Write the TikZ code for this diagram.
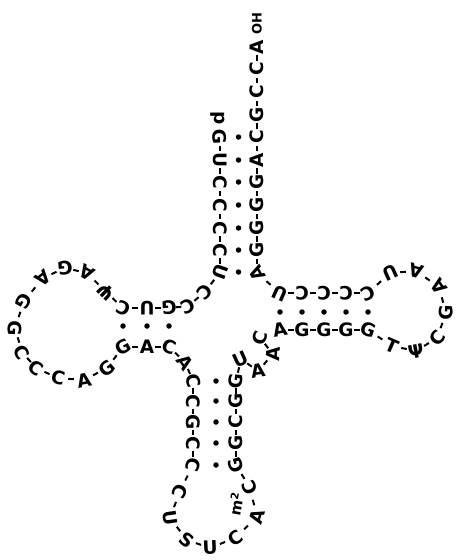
\documentclass[tikz,border=0pt]{standalone}
\usepackage{fontspec}
\newfontfamily\nucfont{DejaVu Sans}
\usetikzlibrary{calc}
\tikzset{
  nucl/.style={font={\nucfont\bfseries\fontsize{18.5pt}{18.5pt}\selectfont}, inner sep=0pt},
  small/.style={font={\nucfont\bfseries\fontsize{13pt}{13pt}\selectfont}, inner sep=0pt},
  hy/.style={line width=2pt, to path={($(\tikztostart)!0.5!(\tikztotarget)!2.8pt!(\tikztostart)$) -- ($(\tikztostart)!0.5!(\tikztotarget)!2.8pt!(\tikztotarget)$)}},
  pairdot/.style={circle, fill=black, inner sep=0pt, minimum size=5.5pt}
}
\newcommand\nt[2]{%
  \edef\ntprev{c\the\numexpr#1-1\relax}%
  \edef\ntnext{c\the\numexpr#1+1\relax}%
  \pgfmathanglebetweenpoints{\pgfpointanchor{\ntprev}{center}}{\pgfpointanchor{\ntnext}{center}}%
  \let\ntang\pgfmathresult
  \node[nucl, rotate=\ntang] (n#1) at (c#1) {#2};%
}
\begin{document}
\begin{tikzpicture}[x=1pt, y=-1pt]
\useasboundingbox (0,0) rectangle (457,560);
% coordinates of the chain
\coordinate (c0) at (218,118);
\coordinate (c1) at (220,137);
\coordinate (c2) at (220,160);
\coordinate (c3) at (220,182);
\coordinate (c4) at (220,205);
\coordinate (c5) at (220,228);
\coordinate (c6) at (220,250);
\coordinate (c7) at (220,272);
\coordinate (c8) at (205,292);
\coordinate (c9) at (188,306);
\coordinate (c10) at (169,308);
\coordinate (c11) at (147,308);
\coordinate (c12) at (123,308);
\coordinate (c13) at (106,292);
\coordinate (c14) at (87,273);
\coordinate (c15) at (65,268);
\coordinate (c16) at (43,278);
\coordinate (c17) at (24,301);
\coordinate (c18) at (15,328);
\coordinate (c19) at (22,352);
\coordinate (c20) at (36,368);
\coordinate (c21) at (58,378);
\coordinate (c22) at (84,380);
\coordinate (c23) at (107,368);
\coordinate (c24) at (123,347);
\coordinate (c25) at (147,347);
\coordinate (c26) at (169,347);
\coordinate (c27) at (185,362);
\coordinate (c28) at (193,381);
\coordinate (c29) at (193,401);
\coordinate (c30) at (193,422);
\coordinate (c31) at (193,443);
\coordinate (c32) at (193,465);
\coordinate (c33) at (180,491);
\coordinate (c34) at (170,518);
\coordinate (c35) at (187,540);
\coordinate (c36) at (210,548);
\coordinate (c37) at (235,538);
\coordinate (c38) at (257,517);
\coordinate (c39) at (250,488);
\coordinate (c40) at (236,465);
\coordinate (c41) at (236,443);
\coordinate (c42) at (236,422);
\coordinate (c43) at (236,401);
\coordinate (c44) at (236,381);
\coordinate (c45) at (241,359);
\coordinate (c46) at (258,371);
\coordinate (c47) at (273,354);
\coordinate (c48) at (260,338);
\coordinate (c49) at (280,330);
\coordinate (c50) at (302,330);
\coordinate (c51) at (324,330);
\coordinate (c52) at (346,330);
\coordinate (c53) at (368,330);
\coordinate (c54) at (392,346);
\coordinate (c55) at (416,351);
\coordinate (c56) at (437,338);
\coordinate (c57) at (446,313);
\coordinate (c58) at (439,287);
\coordinate (c59) at (416,271);
\coordinate (c60) at (390,273);
\coordinate (c61) at (368,293);
\coordinate (c62) at (346,293);
\coordinate (c63) at (324,293);
\coordinate (c64) at (302,293);
\coordinate (c65) at (280,293);
\coordinate (c66) at (257,273);
\coordinate (c67) at (257,250);
\coordinate (c68) at (257,228);
\coordinate (c69) at (257,205);
\coordinate (c70) at (257,182);
\coordinate (c71) at (257,160);
\coordinate (c72) at (257,137);
\coordinate (c73) at (257,115);
\coordinate (c74) at (257,92);
\coordinate (c75) at (257,69);
\coordinate (c76) at (257,47);
\coordinate (c77) at (257,24);
% nucleotides
\nt{1}{G}\nt{2}{U}\nt{3}{C}\nt{4}{C}\nt{5}{C}\nt{6}{C}\nt{7}{U}
\nt{8}{C}\nt{9}{C}
\nt{10}{G}\nt{11}{U}\nt{12}{C}
\nt{13}{Ψ}\nt{14}{A}\nt{15}{G}\nt{16}{A}\nt{17}{G}\nt{18}{G}\nt{19}{C}
\nt{20}{C}\nt{21}{C}\nt{22}{A}\nt{23}{G}
\nt{24}{G}\nt{25}{A}\nt{26}{C}\nt{27}{A}
\nt{28}{C}\nt{29}{C}\nt{30}{G}\nt{31}{C}\nt{32}{C}
\nt{33}{C}\nt{34}{U}\nt{35}{S}\nt{36}{U}\nt{37}{C}\nt{38}{A}\nt{39}{C}
\nt{40}{G}\nt{41}{G}\nt{42}{C}\nt{43}{G}\nt{44}{G}
\nt{45}{U}\nt{46}{A}\nt{47}{A}\nt{48}{C}
\nt{49}{A}\nt{50}{G}\nt{51}{G}\nt{52}{G}\nt{53}{G}
\nt{54}{T}\nt{55}{Ψ}\nt{56}{C}\nt{57}{G}\nt{58}{A}\nt{59}{A}\nt{60}{U}
\nt{61}{C}\nt{62}{C}\nt{63}{C}\nt{64}{C}\nt{65}{U}
\nt{66}{A}\nt{67}{G}\nt{68}{G}\nt{69}{G}\nt{70}{G}\nt{71}{A}
\nt{72}{C}\nt{73}{G}\nt{74}{C}\nt{75}{C}\nt{76}{A}
% ends and modification
\node[nucl, rotate=-90] (p5) at (c0) {p};
\node[small, rotate=90] (oh) at (c77) {OH};
\node[small, font={\nucfont\bfseries\fontsize{15pt}{15pt}\selectfont}, rotate=80] (m2) at (236,504) {m\textsuperscript{2}};
% backbone dashes
\foreach \i [evaluate=\i as \j using int(\i+1)] in {1,...,47,49,50,...,75}
  \draw[hy] (n\i) to (n\j);
% base-pair dots
\foreach \y [count=\k] in {137,160,182,205,228,250,272}
  \node[pairdot] (ab\k) at (238.5,\y) {};
\foreach \x [count=\k] in {123,147,169}
  \node[pairdot] (db\k) at (\x,326) {};
\foreach \y [count=\k] in {381,401,422,443,465}
  \node[pairdot] (cb\k) at (216,\y) {};
\foreach \x [count=\k] in {280,302,324,346,368}
  \node[pairdot] (tb\k) at (\x,312) {};
\end{tikzpicture}
\end{document}
